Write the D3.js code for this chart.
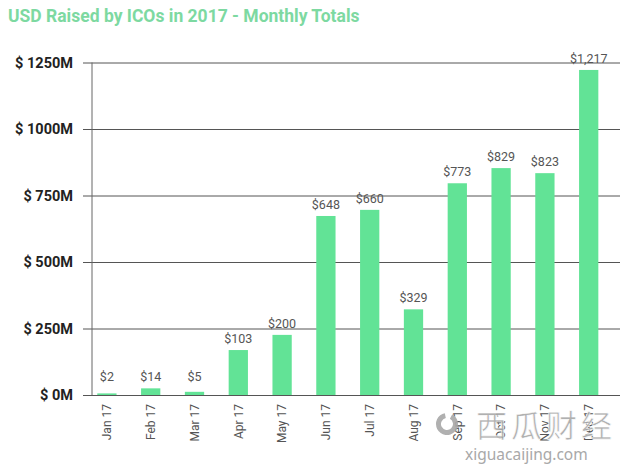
<!DOCTYPE html>
<html>
<head>
<meta charset="utf-8">
<script src="https://cdn.jsdelivr.net/npm/d3@7"></script>
<style>
  html, body { margin: 0; padding: 0; background: #fff; }
  svg { display: block; }
</style>
</head>
<body>
<svg id="chart" width="627" height="469"></svg>
<script>
const months = ["Jan 17","Feb 17","Mar 17","Apr 17","May 17","Jun 17","Jul 17","Aug 17","Sep 17","Oct 17","Nov 17","Dec 17"];
// bar heights as drawn in the picture (USD millions)
const barHeights = [6, 25, 12, 169, 226, 673, 696, 322, 796, 853, 834, 1222];
// value labels printed above the bars
const valueLabels = ["$2","$14","$5","$103","$200","$648","$660","$329","$773","$829","$823","$1,217"];
const yTicks = [0, 250, 500, 750, 1000, 1250];
const title = "USD Raised by ICOs in 2017 - Monthly Totals";

const svg = d3.select("#chart");
const FONT = "Roboto, 'Noto Sans', sans-serif";

const x = d3.scaleBand().domain(months).range([85, 610.6]).paddingInner(0.56).paddingOuter(0.28);
const y = d3.scaleLinear().domain([0, 1250]).range([395, 62.5]);

// title
svg.append("text")
  .attr("x", 8).attr("y", 22)
  .attr("font-family", FONT).attr("font-weight", "bold").attr("font-size", 17.5)
  .attr("fill", "#7dd9a1")
  .text(title);

// gridlines + y axis
const yAxis = d3.axisLeft(y).tickValues(yTicks)
  .tickSize(-(620 - 83)).tickPadding(10)
  .tickFormat(d => "$ " + d + "M");
const gy = svg.append("g").attr("transform", "translate(83,0)").call(yAxis);
gy.select(".domain").remove();
gy.selectAll(".tick line").attr("stroke", "#555").attr("stroke-width", 1);
gy.selectAll(".tick text")
  .attr("font-family", FONT).attr("font-weight", "bold").attr("font-size", 14.5)
  .attr("fill", "#222");

// vertical axis line
svg.append("line")
  .attr("x1", 92).attr("x2", 92)
  .attr("y1", y(1250)).attr("y2", y(0))
  .attr("stroke", "#666").attr("stroke-width", 1);

// bars
svg.append("g").selectAll("rect").data(months).join("rect")
  .attr("x", d => x(d))
  .attr("width", x.bandwidth())
  .attr("y", (d, i) => y(barHeights[i]))
  .attr("height", (d, i) => y(0) - y(barHeights[i]))
  .attr("fill", "#62e396");

// value labels
svg.append("g").selectAll("text").data(months).join("text")
  .attr("x", d => x(d) + x.bandwidth() / 2)
  .attr("y", (d, i) => Math.min(y(barHeights[i]), 388) - 7)
  .attr("text-anchor", "middle")
  .attr("font-family", FONT).attr("font-size", 12.5)
  .attr("fill", "#555")
  .text((d, i) => valueLabels[i]);

// x labels
svg.append("g").selectAll("text").data(months).join("text")
  .attr("transform", d => `translate(${x(d) + x.bandwidth() / 2},404) rotate(-90)`)
  .attr("text-anchor", "end")
  .attr("dy", "0.35em")
  .attr("font-family", FONT).attr("font-size", 12)
  .attr("fill", "#555")
  .text(d => d);

// watermark
const wm = svg.append("g").attr("opacity", 0.9);
wm.append("path")
  .attr("d", d3.arc()({innerRadius: 6, outerRadius: 11, startAngle: 0.5, endAngle: 2 * Math.PI - 0.2}))
  .attr("transform", "translate(447,424)")
  .attr("fill", "#a8a8a8");
wm.append("text")
  .attr("x", 476).attr("y", 437)
  .attr("font-family", "'Noto Sans CJK SC', sans-serif").attr("font-size", 31)
  .attr("letter-spacing", 4)
  .attr("fill", "#a8a8a8").attr("stroke", "#fff").attr("stroke-width", 0.6)
  .text("西瓜财经");
wm.append("text")
  .attr("x", 465).attr("y", 460)
  .attr("font-family", "'Noto Sans', sans-serif").attr("font-size", 15.5)
  .attr("fill", "#a0a0a0")
  .text("xiguacaijing.com");
</script>
</body>
</html>
